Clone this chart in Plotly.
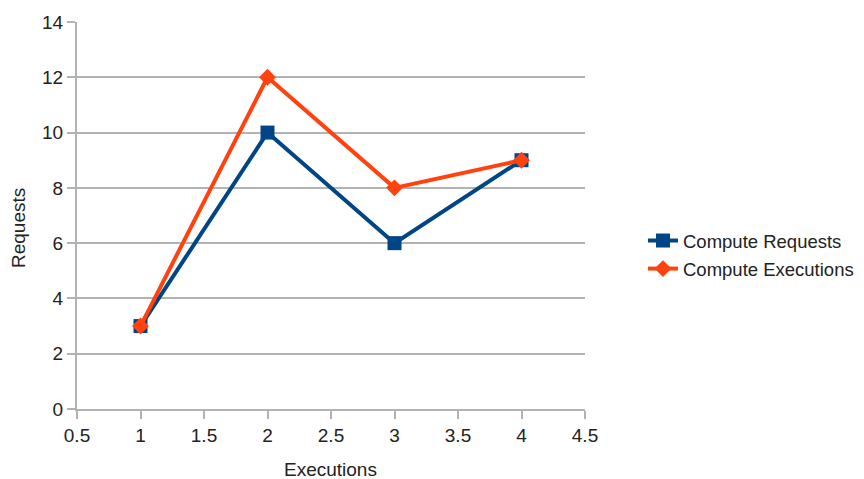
import plotly.graph_objects as go

x_vals = [1, 2, 3, 4]
compute_requests = [3, 10, 6, 9]
compute_executions = [3, 12, 8, 9]
x_ticks = [0.5, 1, 1.5, 2, 2.5, 3, 3.5, 4, 4.5]
x_tick_labels = ["0.5", "1", "1.5", "2", "2.5", "3", "3.5", "4", "4.5"]
y_ticks = [0, 2, 4, 6, 8, 10, 12, 14]

BLUE = "#004586"
ORANGE = "#ff420e"
GRID = "#b3b3b3"
TEXT = "#222222"
FONT = "Liberation Sans, Arial, sans-serif"
FS = 19

# page body has an 8px margin
OFF = 8
W, H = 890, 479 - OFF
L, R, T = 77 - OFF, W - (585 - OFF), 22 - OFF
B = H - (409 - OFF)
PW, PH = W - L - R, H - T - B


def px_x(sx):
    return (sx - OFF - L) / PW


def px_y(sy):
    return (H - B - (sy - OFF)) / PH


fig = go.Figure()
fig.add_trace(go.Scatter(
    x=x_vals, y=compute_requests, name="Compute Requests",
    mode="lines+markers", legendgroup="a",
    line=dict(color=BLUE, width=4),
    marker=dict(symbol="square", size=14, color=BLUE),
))
fig.add_trace(go.Scatter(
    x=x_vals, y=compute_executions, name="Compute Executions",
    mode="lines+markers", legendgroup="b",
    line=dict(color=ORANGE, width=4),
    marker=dict(symbol="diamond", size=13, color=ORANGE),
))

fig.update_layout(
    width=W, height=H,
    margin=dict(l=L, r=R, t=T, b=B),
    paper_bgcolor="white", plot_bgcolor="white",
    font=dict(family=FONT, size=FS, color=TEXT),
    showlegend=True,
    legend=dict(
        x=px_x(643), y=px_y(255), xanchor="left", yanchor="middle",
        font=dict(family=FONT, size=18.5, color=TEXT),
        traceorder="grouped", tracegroupgap=1,
        bgcolor="rgba(0,0,0,0)",
    ),
    xaxis=dict(
        range=[0.5, 4.5], tickvals=x_ticks, ticktext=x_tick_labels,
        showgrid=False, zeroline=False, automargin=False,
        showline=True, linecolor=GRID, linewidth=2,
        ticks="outside", ticklen=8, tickcolor=GRID, tickwidth=2,
        tickfont=dict(family=FONT, size=FS, color=TEXT),
    ),
    yaxis=dict(
        range=[0, 14], tickvals=y_ticks,
        showgrid=True, gridcolor=GRID, gridwidth=1.5,
        zeroline=False, automargin=False,
        showline=True, linecolor=GRID, linewidth=2,
        ticks="outside", ticklen=8, tickcolor=GRID, tickwidth=2,
        tickfont=dict(family=FONT, size=FS, color=TEXT),
    ),
    annotations=[
        dict(text="Executions", xref="paper", yref="paper",
             x=px_x(330), y=px_y(470),
             xanchor="center", yanchor="middle", showarrow=False,
             font=dict(family=FONT, size=FS, color=TEXT)),
        dict(text="Requests", xref="paper", yref="paper",
             x=px_x(18), y=px_y(228), textangle=-90,
             xanchor="center", yanchor="middle", showarrow=False,
             font=dict(family=FONT, size=FS, color=TEXT)),
    ],
)

fig.write_html("out.html")
